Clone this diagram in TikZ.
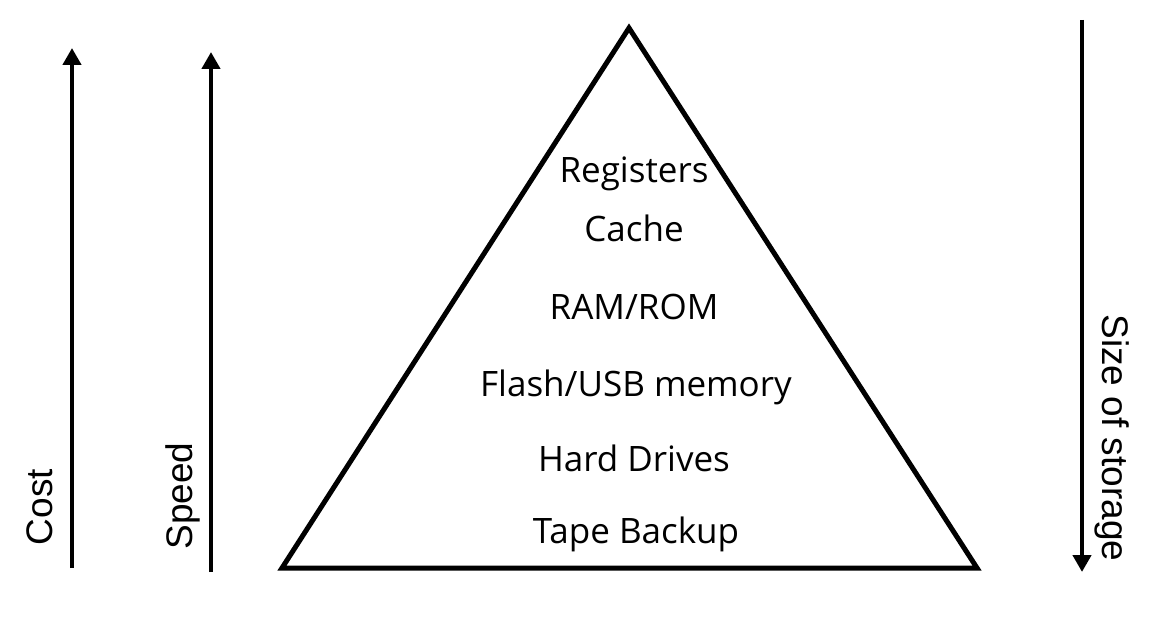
\documentclass[tikz,border=0pt]{standalone}
\usepackage{fontspec}
\setmainfont{Open Sans}
\newfontfamily\sidefont{Liberation Sans}
\usetikzlibrary{arrows.meta}

\begin{document}
\begin{tikzpicture}[x=1pt, y=-1pt,
	level/.style={anchor=base, font=\fontsize{35}{35}\selectfont},
	sidelabel/.style={anchor=base, font=\sidefont\fontsize{37}{37}\selectfont},
	axis/.style={line width=4.5pt, -{Triangle[width=18pt, length=17pt]}}]
	\useasboundingbox (0,0) rectangle (1172,644);

	%% The pyramid -- three corners, drawn as one closed path
	\coordinate (apex) at (629,28);
	\coordinate (left) at (282,568);
	\coordinate (right) at (977,568);
	\draw [line width=5pt, miter limit=10] (apex) -- (left) -- (right) -- cycle;

	%% Levels of the hierarchy, top to bottom
	\node at (634,183) [level] (reg) {Registers};
	\node at (634,242) [level] (cache) {Cache};
	\node at (634,319) [level] (ram) {RAM/ROM};
	\node at (636,396) [level] (flash) {Flash/USB memory};
	\node at (634,471) [level] (hdd) {Hard Drives};
	\node at (636,543) [level] (tape) {Tape Backup};

	%% The three axes beside the pyramid
	\coordinate (cost0) at (72,568);	% Cost goes up
	\coordinate (cost1) at (72,48);
	\coordinate (speed0) at (211,572);	% Speed goes up
	\coordinate (speed1) at (211,52);
	\coordinate (size0) at (1082,20);	% Size goes down
	\coordinate (size1) at (1082,572);
	\draw [axis] (cost0) -- (cost1);
	\draw [axis] (speed0) -- (speed1);
	\draw [axis] (size0) -- (size1);

	%% Axis labels, turned to run along the arrows
	\node at (52,507) [sidelabel, rotate=90] (cost) {Cost};
	\node at (192,496) [sidelabel, rotate=90] (speed) {Speed};
	\node at (1102,438) [sidelabel, rotate=-90] (size) {Size of storage};
\end{tikzpicture}
\end{document}
